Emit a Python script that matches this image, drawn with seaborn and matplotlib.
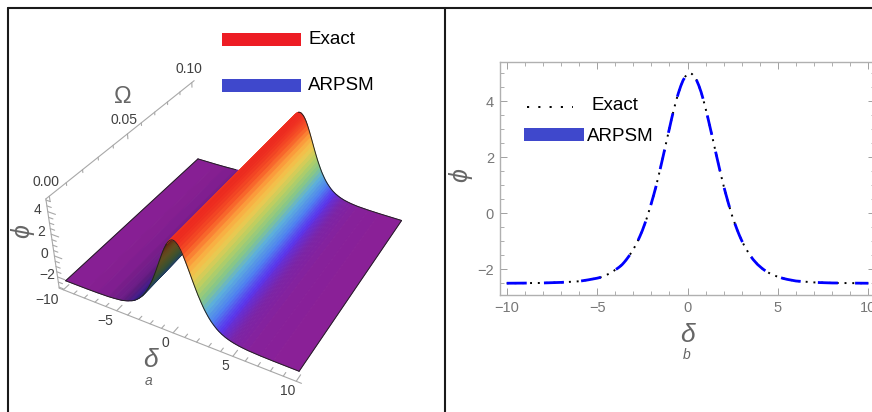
import matplotlib
matplotlib.use("Agg")
import matplotlib.pyplot as plt
import numpy as np
import seaborn as sns
from matplotlib.colors import LinearSegmentedColormap
from matplotlib.lines import Line2D
from matplotlib.patches import Rectangle
from mpl_toolkits.mplot3d import proj3d

delta = [-10, -8, -7, -6, -5.5, -5.25, -5, -4.875, -4.75, -4.625, -4.5, -4.375, -4.25, -4.125,
         -4, -3.875, -3.75, -3.625, -3.5, -3.375, -3.25, -3.125, -3, -2.875, -2.75, -2.625, -2.5, -2.375,
         -2.25, -2.125, -2, -1.875, -1.75, -1.625, -1.5, -1.375, -1.25, -1.125, -1, -0.875, -0.75, -0.625,
         -0.5, -0.375, -0.25, -0.125, 0, 0.125, 0.25, 0.375, 0.5, 0.625, 0.75, 0.875, 1, 1.125, 1.25, 1.375,
         1.5, 1.625, 1.75, 1.875, 2, 2.125, 2.25, 2.375, 2.5, 2.625, 2.75, 2.875, 3, 3.125, 3.25, 3.375,
         3.5, 3.625, 3.75, 3.875, 4, 4.125, 4.25, 4.375, 4.5, 4.625, 4.75, 4.875, 5, 5.25, 5.5, 6, 7, 8, 10]
phi = [-2.5, -2.49, -2.47, -2.43, -2.38, -2.35, -2.32, -2.30, -2.28, -2.25, -2.21, -2.17, -2.13, -2.08,
       -2.02, -1.97, -1.91, -1.84, -1.75, -1.65, -1.54, -1.42, -1.29, -1.15, -0.99, -0.81, -0.62, -0.40,
       -0.17, 0.09, 0.36, 0.64, 0.94, 1.27, 1.61, 1.96, 2.32, 2.68, 3.03, 3.39, 3.72, 4.03,
       4.30, 4.54, 4.74, 4.88, 4.97, 5.00, 4.97, 4.88, 4.75, 4.56, 4.33, 4.05, 3.74, 3.41, 3.06, 2.71,
       2.35, 1.99, 1.64, 1.30, 0.97, 0.67, 0.38, 0.10, -0.16, -0.38, -0.60, -0.80, -0.98, -1.14, -1.28, -1.42,
       -1.54, -1.65, -1.74, -1.83, -1.90, -1.97, -2.03, -2.08, -2.13, -2.17, -2.21, -2.24, -2.27, -2.32, -2.36, -2.42, -2.47, -2.49, -2.5]
omega = [0, 0.1]

delta_ticks = [-10, -5, 0, 5, 10]
delta_tick_dx = [-16, -11, -8, -8, -9]
phi_ticks = [-2, 0, 2, 4]
omega_ticks = [0, 0.05, 0.1]

DELTA_BOX = (-10.4, 10.4)
OMEGA_BOX = (-0.002, 0.102)
PHI_BOX = (-3.1, 5.1)
W, H = 872, 412

sns.set_theme(style="white")
plt.rcParams["font.family"] = ["Liberation Sans", "DejaVu Sans"]

fig = plt.figure(figsize=(W / 100, H / 100), dpi=100)

# camera found by fitting the box corners of the reference
ax = fig.add_axes([154.5 / W, 1 - (131.1 + 168.7) / H, 168.7 / W, 168.7 / H], projection="3d")
ax.set_xlim(*DELTA_BOX, view_margin=0)
ax.set_ylim(*OMEGA_BOX, view_margin=0)
ax.set_zlim(*PHI_BOX, view_margin=0)
ax.set_proj_type("persp", focal_length=1)
ax.view_init(elev=35.943, azim=-61.516, roll=-0.198)
ax.set_box_aspect((1.065, 1.063, 0.433), zoom=2.240)
ax.computed_zorder = False
ax.set_axis_off()
d0, d1 = DELTA_BOX
o0, o1 = OMEGA_BOX
p0, p1 = PHI_BOX

cmap = LinearSegmentedColormap.from_list(
    "ridge",
    [(0.0, "#8A2097"), (0.04, "#7A24A8"), (0.107, "#5A34EC"), (0.2, "#4F80F0"), (0.307, "#5CAEDC"),
     (0.413, "#85C68A"), (0.533, "#B8CF62"), (0.667, "#F0C84E"), (0.773, "#FBA53E"), (0.893, "#F85A28"), (1.0, "#EE2A20")],
)
d_arr = np.array(delta)
p_arr = np.array(phi)
X, Y = np.meshgrid(d_arr, omega)
Z = np.tile(p_arr, (len(omega), 1))
colors = cmap((p_arr + 2.5) / 7.5)
# only the lower left flank falls in shadow, the crest stays bright
slope = np.clip(np.gradient(p_arr, d_arr) / 1.4, 0, 1)
slope[d_arr > -0.5] = 0
colors[:, :3] *= (1 - 0.6 * slope ** 0.6)[:, None]
face = np.tile(colors, (len(omega), 1, 1))
surf = ax.plot_surface(X, Y, Z, facecolors=face, rstride=1, cstride=1, shade=False, linewidth=0.6,
                       edgecolor=face[:-1, :-1].reshape(-1, 4), antialiased=True, zorder=2)
surf.set_clip_on(False)

EDGE = dict(color="#222222", lw=0.7, clip_on=False)
ax.plot(d_arr, np.zeros_like(d_arr), p_arr, zorder=4, **EDGE)
far = d_arr >= 0
ax.plot(d_arr[far], np.full(far.sum(), 0.1), p_arr[far], zorder=3, **EDGE)
near = d_arr <= -6
ax.plot(d_arr[near], np.full(near.sum(), 0.1), p_arr[near], zorder=3, **EDGE)
ax.plot([10, 10], [0, 0.1], [-2.5, -2.5], zorder=4, **EDGE)
ax.plot([-10, -10], [0, 0.1], [-2.5, -2.5], zorder=4, **EDGE)

AX3 = dict(color="#A8A8A8", lw=0.8, zorder=1, clip_on=False)
ax.plot([d0, d0], [o0, o1], [p1, p1], **AX3)
ax.plot([d0, d0], [o0, o0], [p0, p1], **AX3)
ax.plot([d0, d1], [o0, o0], [p0, p0], **AX3)
for v in range(-10, 11):
    ln = 0.0035 if v % 5 == 0 else 0.002
    ax.plot([v, v], [o0, o0 + ln], [p0, p0], **AX3)
for v in np.arange(-3, 5.1, 0.5):
    ln = 0.7 if v % 2 == 0 else 0.4
    ax.plot([d0, d0 + ln], [o0, o0], [v, v], **AX3)
for i in range(11):
    ln = 0.45 if i % 5 == 0 else 0.25
    ax.plot([d0, d0], [i / 100, i / 100], [p1, p1 - ln], **AX3)


def label3d(x, y, z, text, dx, dy, **kw):
    xp, yp, _ = proj3d.proj_transform(x, y, z, ax.get_proj())
    ax.annotate(text, (xp, yp), xytext=(dx, dy), textcoords="offset pixels", ha="center", va="center",
                annotation_clip=False, zorder=5, **kw)


TICK3 = dict(color="#404040", fontsize=10)
for v, dx in zip(delta_ticks, delta_tick_dx):
    label3d(v, o0, p0, str(v).replace("-", "\u2212"), dx, -10, **TICK3)
for v in phi_ticks:
    label3d(d0, o0, v, str(v).replace("-", "\u2212"), -10, 2, **TICK3)
for v in omega_ticks:
    label3d(d0, v, p1, f"{v:.2f}", -3, 14, **TICK3)

GRAY = "#666666"
fig.text(123 / W, 1 - 97 / H, "\u03a9", fontsize=17, color=GRAY, ha="center", va="center")
fig.text(150 / W, 1 - 360 / H, "\u03b4", fontsize=19, color=GRAY, style="italic", ha="center", va="center")
fig.text(149 / W, 1 - 381 / H, "a", fontsize=10, color=GRAY, style="italic", ha="center", va="center")
fig.text(22 / W, 1 - 231 / H, "\u03d5", fontsize=18, color=GRAY, style="italic", rotation=90, ha="center", va="center")


def bar(x0, y0, x1, y1, color):
    fig.add_artist(Rectangle((x0 / W, 1 - y1 / H), (x1 - x0) / W, (y1 - y0) / H, transform=fig.transFigure, facecolor=color, edgecolor="none"))


bar(222, 33, 301, 46, "#ED1C24")
bar(222, 79, 301, 92, "#3F48CC")
fig.text(308 / W, 1 - 40 / H, "Exact", fontsize=13.5, color="black", va="center")
fig.text(308 / W, 1 - 86 / H, "ARPSM", fontsize=13.5, color="black", va="center")

# right panel, frame runs past the edge of the figure
ax2 = fig.add_axes([499.5 / W, 1 - 295 / H, 375.5 / W, 233 / H], zorder=5)
ax2.patch.set_alpha(0)
sns.lineplot(x=delta, y=phi, ax=ax2, color="black", linewidth=1.4, linestyle=(0, (1, 3)), errorbar=None, dash_capstyle="butt")
sns.lineplot(x=delta, y=phi, ax=ax2, color="#0000FF", linewidth=2.0, linestyle=(0, (7.2, 6.2)), errorbar=None, dash_capstyle="butt")
ax2.set_xlim(-10.4, 10.37)
ax2.set_ylim(-2.92, 5.4)
ax2.set_xticks(delta_ticks)
ax2.set_xticks(range(-10, 11), minor=True)
ax2.set_yticks(phi_ticks)
ax2.set_yticks(np.arange(-2.5, 5.1, 0.5), minor=True)
ax2.tick_params(which="major", direction="in", length=5, width=0.7, color="#A0A0A0", labelcolor="#777777", labelsize=10.5, top=True, right=True, left=True, bottom=True, pad=4)
ax2.tick_params(which="minor", direction="in", length=3, width=0.6, color="#A0A0A0", top=True, right=True, left=True, bottom=True)
for sp in ax2.spines.values():
    sp.set_color("#B0B0B0")
    sp.set_linewidth(1.0)
ax2.set_xlabel("")
ax2.set_ylabel("")
fig.text(687.5 / W, 1 - 335 / H, "\u03b4", fontsize=19, color=GRAY, style="italic", ha="center", va="center")
fig.text(687 / W, 1 - 355 / H, "b", fontsize=10, color=GRAY, style="italic", ha="center", va="center")
fig.text(460 / W, 1 - 175 / H, "\u03d5", fontsize=18, color=GRAY, style="italic", rotation=90, ha="center", va="center")

bar(524, 128, 584, 141, "#3F48CC")
fig.text(591.5 / W, 1 - 106 / H, "Exact", fontsize=13.5, color="black", va="center")
fig.text(587 / W, 1 - 136 / H, "ARPSM", fontsize=13.5, color="black", va="center")
fig.add_artist(Line2D([526.5 / W, 573 / W], [1 - 107 / H, 1 - 107 / H], transform=fig.transFigure, color="black", lw=1.4, linestyle=(0, (1.1, 4.7))))

BORDER = dict(transform=fig.transFigure, color="#1a1a1a", lw=1.5, zorder=20)
fig.add_artist(Line2D([7.5 / W, 1], [1 - 8 / H, 1 - 8 / H], **BORDER))
fig.add_artist(Line2D([7.5 / W, 7.5 / W], [0, 1 - 8 / H], **BORDER))
fig.add_artist(Line2D([444.5 / W, 444.5 / W], [0, 1 - 8 / H], **BORDER))

fig.savefig("out.png", dpi=100)
